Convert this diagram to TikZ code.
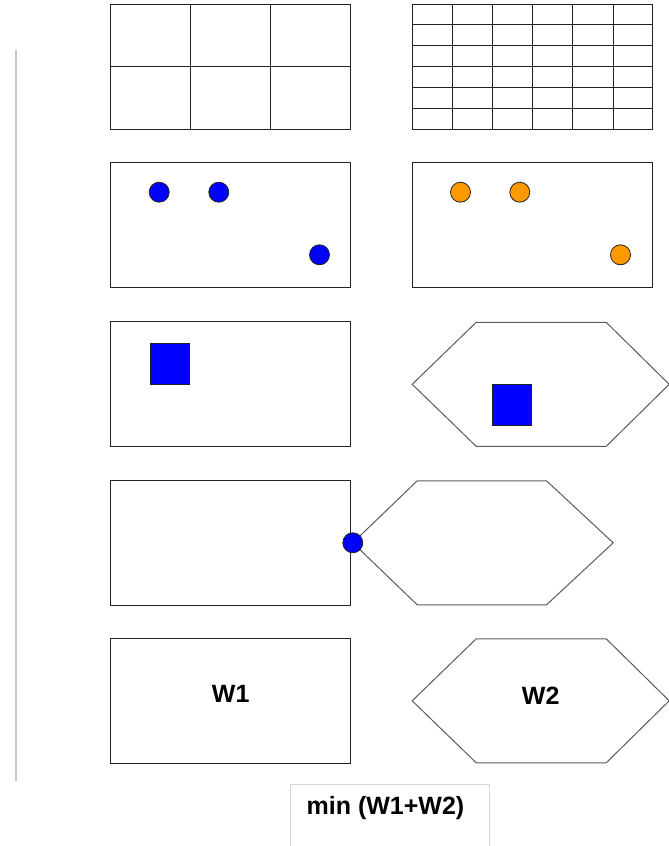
\documentclass[tikz,border=0pt]{standalone}
\usepackage{fontspec}
\setmainfont{Liberation Sans}
\usepackage{tikz}
\usetikzlibrary{positioning,calc}
\definecolor{framegrey}{RGB}{34,34,34}
\definecolor{hexgrey}{RGB}{90,90,90}
\definecolor{dotblue}{RGB}{0,0,255}
\definecolor{dotorange}{RGB}{255,153,0}
\definecolor{railgrey}{RGB}{200,200,200}
\definecolor{boxgrey}{RGB}{215,215,215}
% hexagon from its left corner
\newcommand{\hexfrom}[1]{\draw[hexline] (#1) -- ++(64,-62) -- ++(130,0) -- ++(63,62) -- ++(-63,62) -- ++(-130,0) -- cycle;}

\begin{document}
\begin{tikzpicture}[x=1pt, y=-1pt,
    panel/.style={rectangle, draw=framegrey, line width=1pt,
        minimum width=240pt, minimum height=125pt, inner sep=0pt},
    gridline/.style={draw=framegrey, line width=1pt},
    hexline/.style={draw=hexgrey, line width=1pt, line join=miter},
    bluedot/.style={circle, draw=framegrey, fill=dotblue,
        minimum size=20pt, inner sep=0pt, line width=0.8pt},
    orangedot/.style={bluedot, fill=dotorange},
    bluesq/.style={rectangle, draw=framegrey, fill=dotblue,
        minimum width=39pt, minimum height=41pt, inner sep=0pt, line width=0.8pt},
    tag/.style={font=\bfseries\fontsize{25}{28}\selectfont},
    mintag/.style={font=\bfseries\fontsize{25}{28}\selectfont}
]
\useasboundingbox (0,0) rectangle (669,846);

% rail
\draw[draw=railgrey, line width=2.5pt] (16,50) -- (16,780.7);

% left column
\node[panel] (coarse) at (230.7,66.8) {};
\node[panel, below=32pt of coarse] (ptsl) {};
\node[panel, below=33.5pt of ptsl] (sql) {};
\node[panel, below=32.5pt of sql] (joinl) {};
\node[panel, below=32pt of joinl] (wl) {};

% right column
\node[panel, right=61pt of coarse] (fine) {};
\node[panel, right=61pt of ptsl] (ptsr) {};

% grids
\foreach \i in {1,2}
    \draw[gridline] ($(coarse.north west)!\i/3!(coarse.north east)$) -- ($(coarse.south west)!\i/3!(coarse.south east)$);
\draw[gridline] (coarse.west) -- (coarse.east);
\foreach \i in {1,...,5} {
    \draw[gridline] ($(fine.north west)!\i/6!(fine.north east)$) -- ($(fine.south west)!\i/6!(fine.south east)$);
    \draw[gridline] ($(fine.north west)!\i/6!(fine.south west)$) -- ($(fine.north east)!\i/6!(fine.south east)$);
}

% points
\node[bluedot] (pa) at ($(ptsl.north west)+(49,30.4)$) {};
\node[bluedot] (pb) at ($(ptsl.north west)+(108.6,30.4)$) {};
\node[bluedot] (pc) at ($(ptsl.north west)+(209.3,93)$) {};
\node[orangedot] (qa) at ($(ptsr.north west)+(48.3,30.4)$) {};
\node[orangedot] (qb) at ($(ptsr.north west)+(107.6,30.4)$) {};
\node[orangedot] (qc) at ($(ptsr.north west)+(208.3,93)$) {};

% squares and hexagons
\node[bluesq] (sqa) at ($(sql.north west)+(60,42.7)$) {};
\coordinate (hexa) at ($(sql.east)+(61,0)$);
\hexfrom{hexa}
\node[bluesq] (sqb) at ($(hexa)+(100,21)$) {};

\coordinate (hexb) at ($(joinl.east)+(1.6,0)$);
\draw[hexline] (hexb) -- ++(64.4,-62) -- ++(129.3,0) -- ++(66.7,62) -- ++(-66.7,62) -- ++(-129.3,0) -- cycle;
\node[bluedot] (link) at (hexb) {};

\coordinate (hexc) at ($(wl.east)+(61,0)$);
\hexfrom{hexc}
\node[tag] (wa) at ($(wl.center)+(0,-7)$) {W1};
\node[tag] (wb) at ($(hexc)+(128.5,-5)$) {W2};

% result
\node[mintag] (total) at (385.5,808) {min (W1+W2)};
\draw[draw=boxgrey, line width=1pt] (290.7,850) |- (489.3,784.3) -- (489.3,850);
\end{tikzpicture}
\end{document}
